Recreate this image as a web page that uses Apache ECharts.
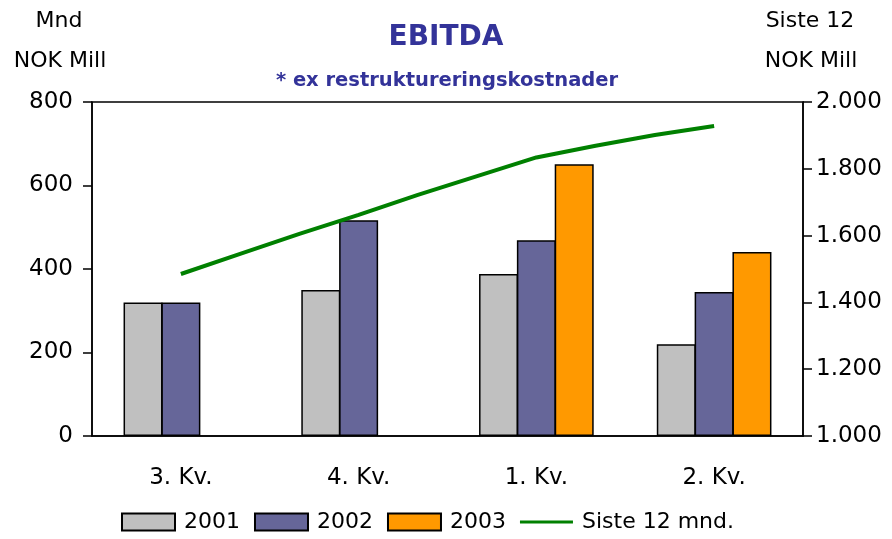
<!DOCTYPE html>
<html>
<head>
<meta charset="utf-8">
<script src="https://cdn.jsdelivr.net/npm/echarts@6/dist/echarts.min.js"></script>
<style>
  html, body { margin: 0; padding: 0; background: #fff; }
  #main { width: 892px; height: 539px; }
</style>
</head>
<body>
<div id="main"></div>
<script>
let myChart = echarts.init(document.getElementById('main'));

// kvartaler
let quarters = ['3. Kv.', '4. Kv.', '1. Kv.', '2. Kv.'];
// mnd-akse for linjen (3 per kvartal)
let months = ['jul', 'aug', 'sep', 'okt', 'nov', 'des', 'jan', 'feb', 'mar', 'apr', 'mai', 'jun'];

let v2001 = [320, 350, 388, 220];
let v2002 = [320, 517, 469, 345];
let v2003 = [null, null, 651, 441];
// siste 12 mnd, NOK Mill
let rolling12 = [null, 1485, 1545, 1605, 1662, 1722, 1778, 1834, 1869, 1901, 1928, null];

let leftTicks = [0, 800, 200];
let rightTicks = [1000, 2000, 200];

let font = 'DejaVu Sans';
let blue = '#333399';

let barStyle = function (color) {
    return { color: color, borderColor: '#000', borderWidth: 1.5 };
};

let txt = function (s, x, y) {
    return {
        type: 'text', x: x, y: y,
        style: { text: s, fontSize: 22, fontFamily: font, fill: '#000', align: 'center', verticalAlign: 'middle' }
    };
};

let option = {
    animation: false,
    textStyle: { fontFamily: font },
    graphic: [
        {
            type: 'text', x: 446, y: 38,
            style: { text: 'EBITDA', fontSize: 28, fontWeight: 'bold', fontFamily: font, fill: blue, align: 'center', verticalAlign: 'middle' }
        },
        {
            type: 'text', x: 447, y: 81,
            style: { text: '* ex restruktureringskostnader', fontSize: 19.5, fontWeight: 'bold', fontFamily: font, fill: blue, align: 'center', verticalAlign: 'middle' }
        },
        txt('Mnd', 59, 21),
        txt('NOK Mill', 60, 61),
        txt('Siste 12', 810, 21),
        txt('NOK Mill', 811, 61)
    ],
    legend: {
        top: 511,
        left: 121,
        padding: 0,
        itemWidth: 53,
        itemHeight: 17,
        itemGap: 14,
        textStyle: { fontSize: 22, color: '#000', fontFamily: font, padding: [0, 0, 0, 4] },
        data: [
            { name: '2001', icon: 'rect' },
            { name: '2002', icon: 'rect' },
            { name: '2003', icon: 'rect' },
            { name: 'Siste 12 mnd.', icon: 'path://M0,0 H58 V3.5 H0 Z' }
        ]
    },
    grid: {
        left: 92,
        right: 89,
        top: 102,
        bottom: 103,
        show: true,
        borderColor: '#000',
        borderWidth: 1.5
    },
    xAxis: [
        {
            type: 'category',
            data: quarters,
            axisLine: { lineStyle: { color: '#000', width: 1.5 } },
            axisTick: { length: 9, lineStyle: { color: '#000', width: 1.5 } },
            axisLabel: { color: '#000', fontSize: 23, margin: 31 }
        },
        {
            type: 'category',
            data: months,
            show: false
        }
    ],
    yAxis: [
        {
            type: 'value',
            min: leftTicks[0],
            max: leftTicks[1],
            interval: leftTicks[2],
            splitLine: { show: false },
            axisLine: { show: true, lineStyle: { color: '#000', width: 1.5 } },
            axisTick: { show: true, length: 9, lineStyle: { color: '#000', width: 1.5 } },
            axisLabel: { color: '#000', fontSize: 23, margin: 19 }
        },
        {
            type: 'value',
            min: rightTicks[0],
            max: rightTicks[1],
            interval: rightTicks[2],
            position: 'right',
            splitLine: { show: false },
            axisLine: { show: true, lineStyle: { color: '#000', width: 1.5 } },
            axisTick: { show: true, length: 9, lineStyle: { color: '#000', width: 1.5 } },
            axisLabel: {
                color: '#000',
                fontSize: 23,
                margin: 13,
                formatter: function (v) {
                    return Math.floor(v / 1000) + '.' + String(v % 1000).padStart(3, '0');
                }
            }
        }
    ],
    series: [
        { name: '2001', type: 'bar', data: v2001, barWidth: 39, barGap: '-3%', itemStyle: barStyle('#C0C0C0') },
        { name: '2002', type: 'bar', data: v2002, barWidth: 39, barGap: '-3%', itemStyle: barStyle('#666699') },
        { name: '2003', type: 'bar', data: v2003, barWidth: 39, barGap: '-3%', itemStyle: barStyle('#FF9900') },
        {
            name: 'Siste 12 mnd.',
            type: 'line',
            xAxisIndex: 1,
            yAxisIndex: 1,
            data: rolling12,
            symbol: 'none',
            lineStyle: { color: '#008000', width: 4 },
            itemStyle: { color: '#008000' }
        }
    ]
};

myChart.setOption(option);
</script>
</body>
</html>
